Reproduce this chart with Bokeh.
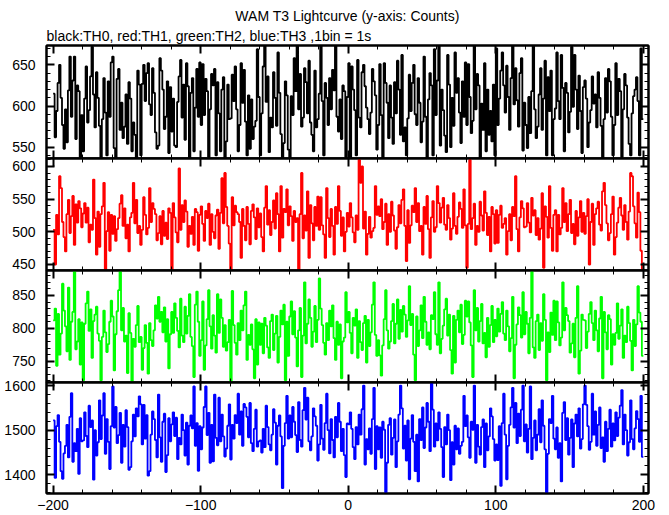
import numpy as np
from bokeh.plotting import figure
from bokeh.layouts import column
from bokeh.models import Range1d, LinearAxis, SingleIntervalTicker, Title
from bokeh.embed import file_html
from bokeh.resources import INLINE

# time of first bin (s), bin width 1 s
t_start = -200

th0 = [
    615, 562, 594, 628, 650, 610, 577, 548, 596, 556, 619, 660, 587, 631, 660, 560, 625, 618, 538, 589,
    545, 609, 648, 580, 595, 636, 672, 614, 574, 641, 610, 576, 535, 584, 634, 592, 540, 630, 587, 653,
    660, 549, 537, 633, 645, 571, 604, 561, 575, 614, 554, 629, 609, 545, 580, 565, 535, 643, 626, 540,
    627, 650, 606, 640, 652, 602, 589, 646, 616, 568, 548, 552, 658, 643, 620, 572, 587, 630, 543, 623,
    569, 609, 552, 550, 605, 636, 656, 586, 626, 559, 652, 624, 535, 616, 634, 545, 598, 645, 587, 653,
    577, 651, 589, 633, 618, 538, 596, 639, 625, 645, 540, 629, 591, 545, 620, 635, 535, 557, 626, 584,
    585, 638, 606, 648, 596, 545, 577, 652, 604, 644, 581, 540, 613, 548, 608, 560, 575, 582, 669, 611,
    540, 591, 648, 675, 605, 636, 544, 586, 574, 641, 610, 576, 665, 616, 566, 535, 555, 630, 613, 547,
    535, 612, 589, 658, 618, 673, 596, 639, 575, 586, 646, 629, 591, 655, 580, 565, 545, 643, 574, 584,
    615, 675, 606, 540, 628, 610, 577, 634, 596, 644, 619, 675, 587, 569, 608, 560, 625, 618, 538, 611,
    652, 535, 648, 620, 595, 540, 656, 586, 574, 641, 650, 624, 598, 584, 566, 592, 645, 630, 613, 547,
    577, 651, 589, 535, 652, 628, 604, 561, 625, 586, 554, 629, 591, 655, 620, 565, 662, 557, 574, 540,
    585, 638, 594, 628, 650, 590, 577, 634, 604, 556, 581, 660, 587, 535, 608, 640, 625, 540, 669, 589,
    631, 675, 552, 620, 595, 564, 544, 662, 626, 550, 610, 576, 665, 616, 634, 592, 555, 630, 587, 653,
    577, 651, 611, 567, 582, 673, 596, 639, 625, 535, 603, 571, 652, 545, 620, 565, 594, 557, 626, 540,
    670, 577, 609, 643, 665, 625, 592, 649, 611, 571, 634, 675, 602, 646, 607, 575, 640, 658, 546, 604,
    577, 549, 611, 567, 618, 673, 596, 561, 575, 614, 646, 571, 609, 655, 540, 635, 594, 643, 540, 584,
    597, 665, 606, 584, 662, 622, 545, 628, 616, 568, 593, 672, 599, 662, 620, 572, 637, 594, 543, 623,
    631, 609, 550, 580, 595, 636, 603, 614, 574, 641, 610, 576, 535, 584, 634, 592, 645, 630, 587, 540,
    577, 652, 589, 633, 618, 538, 596, 639, 625, 586, 554, 540, 591, 612, 620, 635, 606, 540, 670, 584,
]

th1 = [
    503, 450, 526, 496, 585, 567, 515, 492, 470, 527, 549, 498, 524, 555, 480, 542, 514, 547, 536, 507,
    528, 544, 514, 537, 484, 511, 503, 580, 521, 465, 531, 477, 527, 539, 575, 440, 501, 530, 471, 526,
    497, 524, 486, 504, 521, 543, 556, 509, 536, 490, 511, 470, 522, 529, 575, 513, 549, 498, 509, 480,
    503, 553, 526, 496, 506, 567, 515, 544, 535, 527, 487, 498, 524, 481, 532, 494, 514, 489, 536, 529,
    440, 544, 522, 499, 484, 597, 503, 541, 515, 548, 531, 477, 509, 497, 523, 480, 535, 530, 471, 526,
    539, 512, 486, 532, 521, 543, 480, 527, 500, 490, 525, 534, 474, 529, 582, 513, 590, 538, 509, 482,
    440, 553, 510, 540, 530, 527, 515, 460, 535, 509, 487, 538, 512, 481, 532, 542, 522, 489, 536, 507,
    528, 492, 470, 537, 570, 511, 533, 495, 515, 548, 505, 559, 527, 470, 570, 491, 535, 530, 565, 510,
    539, 524, 486, 532, 515, 521, 440, 527, 590, 490, 525, 502, 562, 460, 541, 513, 487, 538, 509, 554,
    503, 553, 510, 496, 460, 567, 521, 492, 535, 509, 465, 538, 512, 570, 532, 494, 522, 470, 500, 529,
    508, 544, 522, 499, 484, 525, 503, 610, 575, 600, 505, 531, 465, 497, 523, 491, 501, 506, 570, 526,
    539, 524, 550, 504, 515, 543, 480, 527, 500, 546, 525, 502, 474, 507, 541, 513, 549, 565, 509, 455,
    533, 483, 510, 540, 530, 567, 515, 544, 501, 509, 465, 538, 512, 555, 504, 460, 522, 547, 500, 507,
    570, 544, 514, 537, 552, 511, 503, 541, 521, 488, 505, 559, 509, 497, 523, 545, 535, 506, 565, 510,
    445, 512, 610, 504, 521, 543, 480, 509, 500, 546, 525, 502, 562, 529, 495, 523, 470, 538, 527, 482,
    533, 483, 526, 540, 506, 512, 521, 465, 501, 527, 487, 538, 524, 585, 504, 470, 522, 547, 536, 507,
    508, 544, 514, 499, 552, 525, 533, 495, 521, 488, 505, 559, 445, 539, 523, 491, 570, 506, 471, 526,
    533, 470, 526, 496, 506, 567, 515, 544, 501, 527, 549, 498, 512, 481, 532, 494, 522, 547, 500, 529,
    497, 524, 550, 450, 515, 543, 480, 527, 536, 546, 511, 502, 562, 575, 541, 513, 487, 498, 527, 554,
    465, 492, 514, 537, 552, 525, 503, 541, 515, 488, 531, 590, 585, 539, 513, 491, 560, 530, 471, 440,
]

th2 = [
    812, 830, 743, 822, 760, 792, 868, 827, 803, 765, 862, 752, 810, 825, 886, 768, 780, 814, 745, 809,
    721, 807, 838, 856, 796, 829, 755, 811, 821, 833, 792, 781, 721, 787, 827, 794, 764, 776, 810, 842,
    818, 736, 791, 826, 858, 886, 797, 831, 780, 789, 732, 823, 793, 719, 784, 772, 805, 834, 779, 787,
    737, 770, 805, 778, 731, 808, 782, 773, 797, 835, 815, 848, 810, 825, 794, 832, 780, 814, 739, 791,
    825, 793, 838, 816, 796, 771, 845, 789, 779, 833, 792, 819, 852, 787, 773, 726, 836, 856, 810, 758,
    782, 841, 737, 774, 814, 858, 803, 769, 820, 789, 763, 852, 793, 844, 816, 772, 805, 766, 779, 813,
    719, 857, 805, 778, 760, 808, 782, 827, 797, 835, 856, 752, 790, 775, 806, 768, 724, 814, 745, 809,
    775, 807, 762, 816, 804, 771, 755, 811, 821, 767, 792, 819, 748, 787, 827, 806, 836, 721, 810, 758,
    818, 841, 791, 826, 786, 742, 797, 831, 726, 789, 870, 777, 807, 844, 816, 772, 795, 834, 779, 813,
    876, 830, 805, 778, 760, 808, 782, 827, 803, 835, 785, 752, 810, 775, 806, 724, 780, 786, 855, 809,
    825, 793, 762, 816, 804, 829, 755, 811, 779, 767, 808, 819, 748, 813, 773, 794, 836, 870, 790, 758,
    782, 759, 728, 774, 814, 858, 797, 769, 780, 811, 837, 777, 807, 844, 784, 828, 795, 834, 821, 787,
    812, 864, 805, 822, 760, 721, 818, 773, 797, 835, 785, 848, 810, 775, 794, 768, 820, 814, 855, 791,
    775, 870, 762, 784, 804, 829, 845, 789, 821, 767, 731, 819, 748, 813, 827, 794, 836, 776, 790, 842,
    818, 841, 809, 774, 726, 858, 797, 831, 780, 811, 837, 777, 793, 756, 816, 772, 805, 834, 779, 813,
    788, 830, 795, 822, 840, 792, 782, 827, 803, 765, 785, 848, 724, 775, 806, 832, 820, 786, 855, 791,
    825, 807, 762, 816, 886, 771, 755, 811, 821, 767, 808, 781, 852, 813, 721, 794, 764, 824, 790, 842,
    782, 841, 809, 774, 786, 870, 797, 831, 820, 811, 763, 777, 807, 756, 816, 864, 731, 766, 821, 813,
    812, 770, 795, 822, 840, 808, 782, 827, 797, 765, 815, 848, 724, 825, 794, 768, 820, 814, 745, 791,
    775, 793, 838, 784, 804, 829, 755, 789, 779, 833, 808, 781, 736, 813, 773, 806, 864, 824, 810, 758,
]

th3 = [
    1522, 1393, 1509, 1534, 1474, 1408, 1391, 1448, 1465, 1512, 1439, 1530, 1583, 1429, 1471, 1453, 1503, 1402, 1527, 1475,
    1477, 1540, 1487, 1462, 1555, 1507, 1522, 1389, 1500, 1443, 1473, 1567, 1480, 1533, 1583, 1447, 1525, 1474, 1413, 1509,
    1598, 1506, 1552, 1471, 1489, 1539, 1427, 1512, 1463, 1545, 1507, 1411, 1417, 1475, 1535, 1486, 1549, 1531, 1576, 1558,
    1468, 1557, 1481, 1534, 1398, 1408, 1490, 1542, 1525, 1478, 1439, 1580, 1484, 1429, 1519, 1537, 1406, 1444, 1527, 1475,
    1513, 1540, 1487, 1528, 1435, 1483, 1468, 1535, 1500, 1443, 1517, 1423, 1510, 1533, 1504, 1598, 1465, 1516, 1409, 1509,
    1457, 1506, 1552, 1598, 1489, 1539, 1427, 1512, 1430, 1580, 1483, 1466, 1573, 1475, 1535, 1486, 1441, 1459, 1510, 1558,
    1434, 1512, 1481, 1534, 1516, 1582, 1490, 1542, 1465, 1559, 1551, 1530, 1484, 1561, 1471, 1453, 1503, 1546, 1463, 1475,
    1477, 1450, 1503, 1462, 1555, 1507, 1468, 1455, 1490, 1547, 1517, 1423, 1510, 1533, 1486, 1370, 1465, 1516, 1577, 1481,
    1533, 1484, 1552, 1519, 1489, 1451, 1563, 1478, 1463, 1545, 1595, 1524, 1573, 1475, 1455, 1486, 1549, 1531, 1510, 1432,
    1468, 1557, 1481, 1456, 1516, 1582, 1500, 1448, 1525, 1478, 1439, 1530, 1484, 1561, 1519, 1453, 1503, 1444, 1395, 1515,
    1513, 1540, 1503, 1462, 1435, 1507, 1468, 1535, 1490, 1547, 1600, 1423, 1480, 1457, 1504, 1447, 1525, 1595, 1413, 1509,
    1457, 1506, 1438, 1519, 1501, 1360, 1427, 1512, 1527, 1445, 1483, 1524, 1417, 1475, 1535, 1600, 1549, 1459, 1510, 1432,
    1522, 1390, 1481, 1534, 1474, 1408, 1490, 1385, 1525, 1478, 1551, 1460, 1506, 1561, 1519, 1453, 1605, 1546, 1463, 1515,
    1477, 1540, 1503, 1462, 1395, 1507, 1468, 1535, 1500, 1388, 1473, 1423, 1510, 1457, 1504, 1447, 1465, 1474, 1577, 1509,
    1533, 1484, 1438, 1519, 1501, 1600, 1427, 1512, 1463, 1445, 1507, 1524, 1417, 1515, 1455, 1486, 1549, 1531, 1480, 1432,
    1468, 1433, 1509, 1375, 1516, 1582, 1490, 1390, 1465, 1512, 1551, 1595, 1506, 1561, 1471, 1537, 1487, 1546, 1600, 1475,
    1513, 1450, 1503, 1598, 1435, 1483, 1522, 1455, 1490, 1547, 1473, 1567, 1510, 1457, 1360, 1447, 1525, 1516, 1577, 1481,
    1457, 1506, 1438, 1471, 1385, 1539, 1563, 1478, 1527, 1445, 1483, 1524, 1417, 1515, 1535, 1486, 1549, 1459, 1480, 1558,
    1600, 1557, 1509, 1456, 1474, 1582, 1490, 1542, 1465, 1512, 1551, 1460, 1484, 1429, 1519, 1453, 1503, 1546, 1463, 1515,
    1477, 1540, 1487, 1528, 1555, 1590, 1468, 1535, 1500, 1443, 1473, 1567, 1480, 1457, 1504, 1543, 1525, 1474, 1577, 1440,
]

series = [
    (th0, "#000000", (536.3, 673.5), 50),
    (th1, "#ff0000", (440.8, 612.2), 50),
    (th2, "#00ff00", (717.6, 888.0), 50),
    (th3, "#0000ff", (1358.0, 1607.0), 100),
]

title_text = "WAM T3 Lightcurve (y-axis: Counts)"
subtitle_text = "black:TH0, red:TH1, green:TH2, blue:TH3 ,1bin = 1s"

FONT = "Liberation Sans"
LEFT = 46
FRAME_W = 602
W = 664
frame_h = [113, 112, 112, 111]
top_b = [45, 8, 8, 8]
bot_b = [8, 8, 8, 22]
OVER = 16


def style_axis(ax, labels, standoff=11):
    ax.axis_line_width = 2
    ax.axis_line_color = "black"
    ax.major_tick_in = 8
    ax.major_tick_out = 0
    ax.minor_tick_in = 4
    ax.minor_tick_out = 0
    ax.major_tick_line_width = 2
    ax.minor_tick_line_width = 1
    ax.major_tick_line_color = "black"
    ax.minor_tick_line_color = "black"
    if labels:
        ax.major_label_text_font = FONT
        ax.major_label_text_font_size = "14px"
        ax.major_label_text_color = "black"
        ax.major_label_standoff = standoff
    else:
        ax.major_label_text_color = None
        ax.major_label_text_font_size = "0px"
        ax.major_label_standoff = 0


figs = []
for k, (vals, color, yr, ystep) in enumerate(series):
    p = figure(width=W, height=frame_h[k] + top_b[k] + bot_b[k],
               x_range=Range1d(-204.5, 203.5), y_range=Range1d(*yr),
               output_backend="svg", toolbar_location=None,
               x_axis_location=None, y_axis_location=None,
               min_border_left=LEFT, min_border_right=W - LEFT - FRAME_W,
               min_border_top=top_b[k], min_border_bottom=bot_b[k],
               margin=(0 if k == 0 else -OVER, 0, 0, 0))
    p.grid.visible = False
    p.outline_line_color = "black"
    p.outline_line_width = 2
    p.background_fill_color = "white"
    p.border_fill_color = "white"
    p.border_fill_alpha = 1.0 if k == 0 else 0.0

    xt = SingleIntervalTicker(interval=100, num_minor_ticks=5)
    yt = SingleIntervalTicker(interval=ystep, num_minor_ticks=5)

    bottom = LinearAxis(ticker=xt)
    style_axis(bottom, k == 3, standoff=6)
    p.add_layout(bottom, "below")
    top = LinearAxis(ticker=xt)
    style_axis(top, False)
    p.add_layout(top, "above")
    left = LinearAxis(ticker=yt)
    style_axis(left, True, standoff=11)
    p.add_layout(left, "left")
    right = LinearAxis(ticker=yt)
    style_axis(right, False)
    p.add_layout(right, "right")

    n = len(vals)
    xs = np.arange(t_start, t_start + n + 1)
    ys = list(vals) + [vals[-1]]
    p.step(xs, ys, mode="after", line_color=color, line_width=1.8)

    if k == 0:
        sub = Title(text=subtitle_text, align="left", text_font=FONT,
                    text_font_size="14px", text_font_style="normal",
                    text_color="black", standoff=3)
        p.add_layout(sub, "above")
        main = Title(text=title_text, align="center", text_font=FONT,
                     text_font_size="14px", text_font_style="normal",
                     text_color="black", standoff=1)
        p.add_layout(main, "above")
    figs.append(p)

layout = column(*figs, spacing=0)
open("out.html", "w").write(file_html(layout, INLINE))
